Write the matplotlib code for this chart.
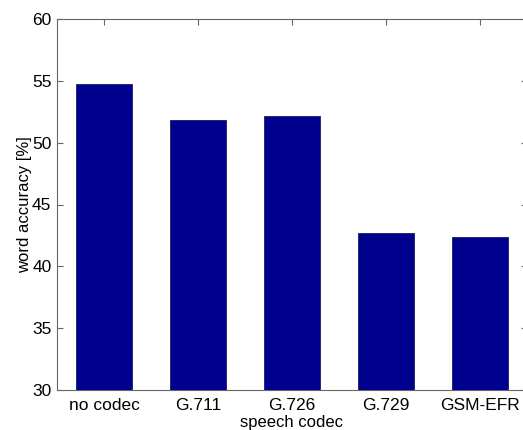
import numpy as np
import matplotlib.pyplot as plt

codecs = ['no codec', 'G.711', 'G.726', 'G.729', 'GSM-EFR']
accuracy = [54.75, 51.83, 52.13, 42.67, 42.4]
yticks = [30, 35, 40, 45, 50, 55, 60]

plt.rcParams['font.family'] = ['Liberation Sans', 'DejaVu Sans']

fig = plt.figure(figsize=(5.23, 4.30), dpi=100)
# axes runs a bit past the right edge like the original screenshot
ax = fig.add_axes([57 / 523, 40 / 430, 470 / 523, 371 / 430])

x = np.arange(1, len(codecs) + 1)
ax.bar(x, accuracy, width=0.6, color='#00008F', edgecolor='#1a1a60', linewidth=0.6, zorder=2)

ax.set_xlim(0.5, 5.5)
ax.set_ylim(30, 60)
ax.set_xticks(x)
ax.set_xticklabels(codecs)
ax.set_yticks(yticks)

axis_col = '#666666'
for s in ax.spines.values():
    s.set_color(axis_col)
    s.set_linewidth(0.8)
ax.tick_params(direction='in', length=4, color=axis_col, labelsize=12.5,
               top=True, right=True)
ax.tick_params(axis='x', pad=6)
ax.tick_params(axis='y', pad=4)

ax.set_xlabel('speech codec', fontsize=12, labelpad=1)
ax.set_ylabel('word accuracy [%]', fontsize=12, labelpad=0)

fig.savefig('out.png', dpi=100)
